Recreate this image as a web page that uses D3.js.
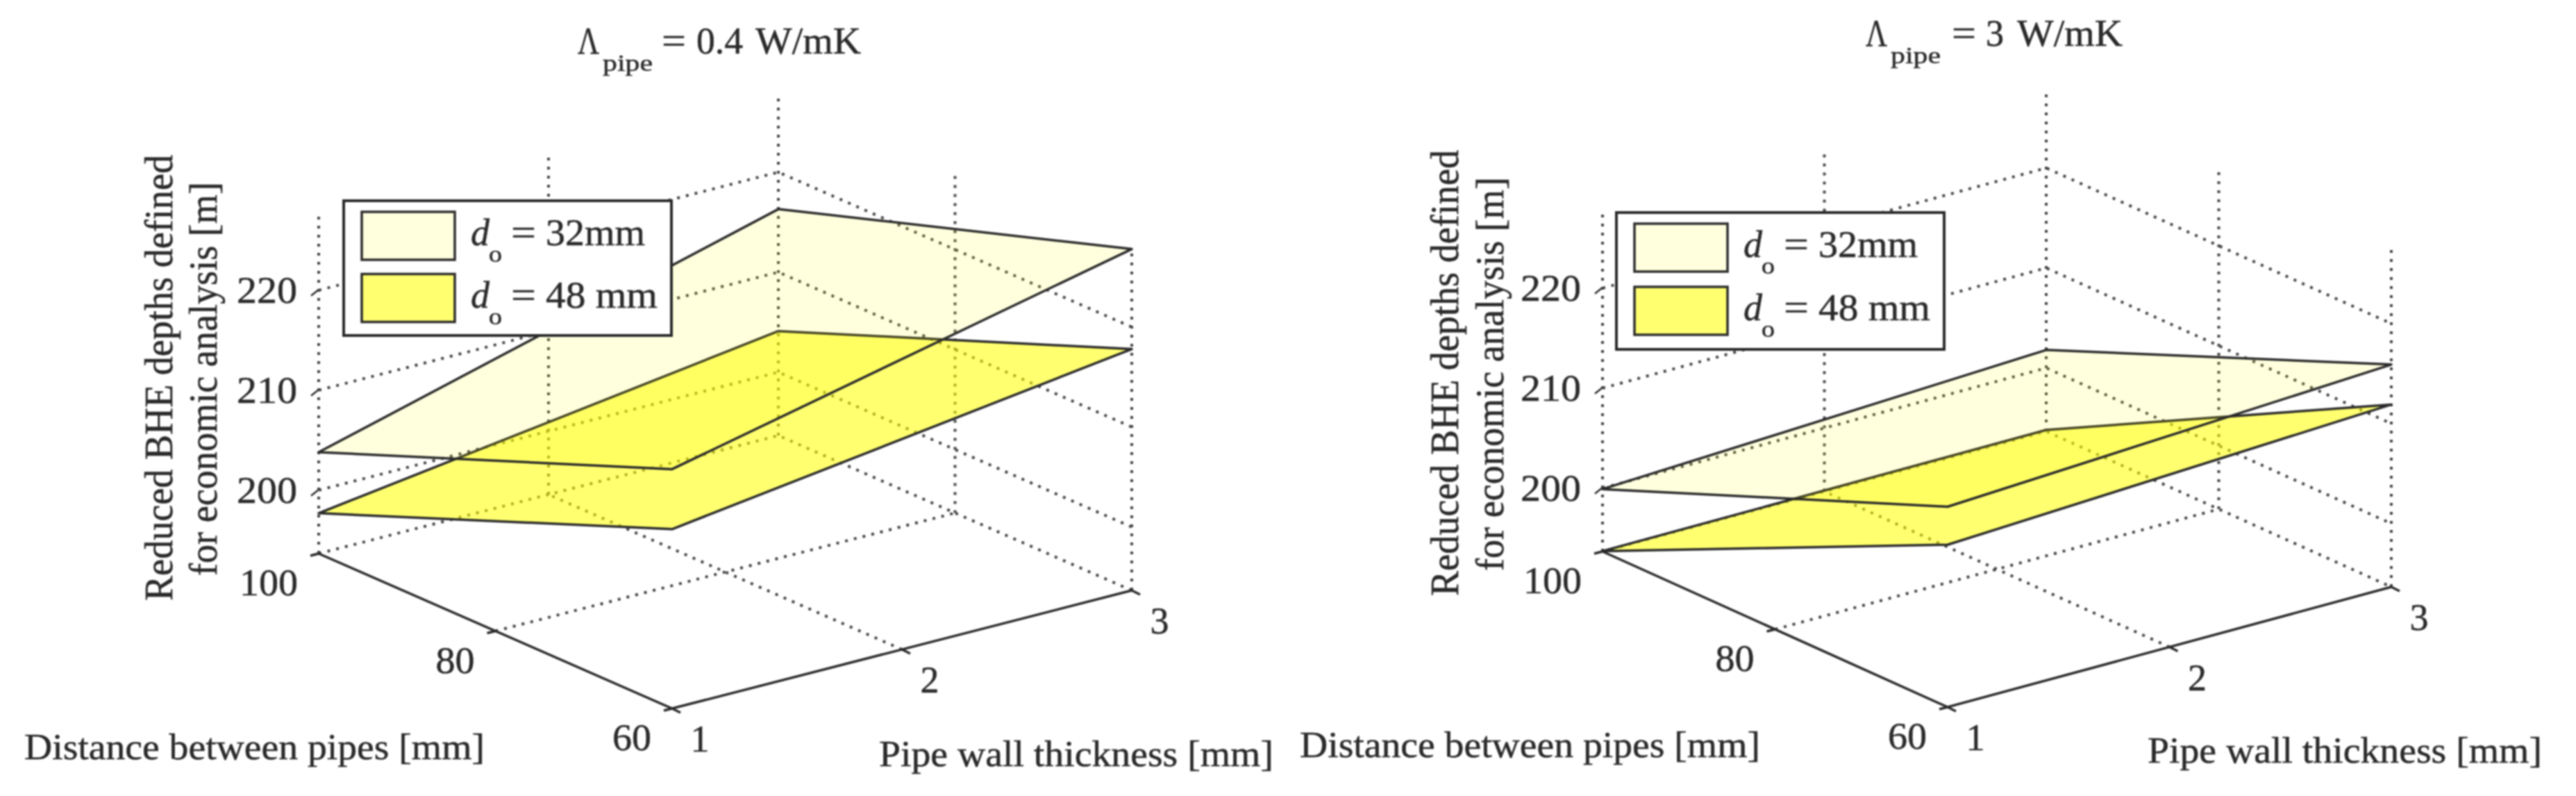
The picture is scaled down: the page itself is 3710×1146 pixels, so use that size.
<!DOCTYPE html>
<html><head><meta charset="utf-8">
<script src="https://d3js.org/d3.v7.min.js"></script>
<style>
html,body{margin:0;padding:0;background:#fff;overflow:hidden}
svg{display:block;filter:blur(.8px)}
text{font-family:"Liberation Serif",serif;fill:#2a2a2a;stroke:#2a2a2a;stroke-width:.5px}
</style></head><body>
<svg id="c" width="3710" height="1146"></svg>
<script>
// ---- data ----
const thicknessTicks = [1, 2, 3];
const distanceTicks = [60, 80, 100];
const depthTicks = [200, 210, 220];
const depthRange = [193.66, 227.7];
// corners ordered (t=1,d=100), (t=1,d=60), (t=3,d=60), (t=3,d=100)
const cornerThickness = [1, 1, 3, 3];
const cornerDistance = [100, 60, 60, 100];
const d32Left = [203.8, 217.6, 227.8, 216.3];
const d48Left = [197.7, 211.6, 217.8, 204.1];
const d32Right = [199.9, 213.7, 215.9, 201.8];
const d48Right = [193.7, 209.9, 211.9, 193.8];
const legendLabels = ["32mm", "48 mm"];
const titleLeft = ["0.4", "W/mK"];
const titleRight = ["3", "W/mK"];
const xLabel = "Pipe wall thickness [mm]";
const yLabel = "Distance between pipes [mm]";
const zLabel = ["Reduced BHE depths defined", "for economic analysis [m]"];

// ---- layout ----
const svg = d3.select("#c");
const DARK = "#2a2a2a", DOT = "#444";
const EDGE = 3.5;

function txt(g, s, x, y, size, len, opts = {}) {
  const t = g.append("text").attr("x", x).attr("y", y).attr("font-size", size).text(s);
  if (len) t.attr("textLength", len).attr("lengthAdjust", "spacingAndGlyphs");
  if (opts.anchor) t.attr("text-anchor", opts.anchor);
  if (opts.italic) t.attr("font-style", "italic");
  if (opts.transform) t.attr("transform", opts.transform);
  return t;
}

function panel(cfg) {
  const g = svg.append("g");
  const { F, L, R } = cfg;
  const tx = d3.scaleLinear().domain([1, 3]).range([0, R[0] - F[0]]);
  const ty = d3.scaleLinear().domain([1, 3]).range([0, R[1] - F[1]]);
  const dx = d3.scaleLinear().domain([60, 100]).range([0, L[0] - F[0]]);
  const dy = d3.scaleLinear().domain([60, 100]).range([0, L[1] - F[1]]);
  const zy = d3.scaleLinear().domain(depthRange).range([0, -490]);
  const P = (t, d, z) => [F[0] + tx(t) + dx(d), F[1] + ty(t) + dy(d) + zy(z)];
  const line = d3.line();
  const z0 = depthRange[0], z1 = depthRange[1];

  // dotted grid
  const grid = [];
  [[1, 100], [2, 100], [3, 100], [3, 80], [3, 60]].forEach(([t, d]) => grid.push([P(t, d, z0), P(t, d, z1)]));
  [z0, ...depthTicks].forEach(z => grid.push([P(1, 100, z), P(3, 100, z), P(3, 60, z)]));
  grid.push([P(2, 60, z0), P(2, 100, z0)]);
  grid.push([P(1, 80, z0), P(3, 80, z0)]);
  g.selectAll(null).data(grid).join("path").attr("d", line).attr("fill", "none")
    .attr("stroke", DOT).attr("stroke-width", 4).attr("stroke-dasharray", "4 9");

  // axes
  g.append("path").attr("d", line([P(1, 100, z0), P(1, 60, z0), P(3, 60, z0)]))
    .attr("fill", "none").attr("stroke", DARK).attr("stroke-width", EDGE);
  thicknessTicks.forEach(t => {
    const p = P(t, 60, z0);
    g.append("line").attr("x1", p[0]).attr("y1", p[1]).attr("x2", p[0] + 12).attr("y2", p[1] + 6)
      .attr("stroke", DARK).attr("stroke-width", EDGE);
    txt(g, t, p[0] + 40, p[1] + 62, 54, 27, { anchor: "middle" });
  });
  distanceTicks.forEach(d => {
    const p = P(1, d, z0);
    g.append("line").attr("x1", p[0]).attr("y1", p[1]).attr("x2", p[0] - 12).attr("y2", p[1] + 3)
      .attr("stroke", DARK).attr("stroke-width", EDGE);
    txt(g, d, p[0] - 30, p[1] + 60, 54, String(d).length * 28, { anchor: "end" });
  });
  depthTicks.forEach(z => {
    const p = P(1, 100, z);
    g.append("line").attr("x1", p[0] - 1).attr("y1", p[1]).attr("x2", p[0] - 11).attr("y2", p[1] + 8)
      .attr("stroke", DARK).attr("stroke-width", 2.5);
    txt(g, z, p[0] - 31, p[1] + 18, 54, 87, { anchor: "end" });
  });

  // surfaces
  [[cfg.d48, .56], [cfg.d32, .13]].forEach(([vals, a]) => {
    const pts = vals.map((z, i) => P(cornerThickness[i], cornerDistance[i], z));
    g.append("path").attr("d", line(pts) + "Z").attr("fill", "#ffff00").attr("fill-opacity", a)
      .attr("stroke", DARK).attr("stroke-width", EDGE).attr("stroke-linejoin", "round");
  });

  // legend
  const [lx, ly] = cfg.legend;
  const lh = cfg.legendH;
  g.append("rect").attr("x", lx).attr("y", ly).attr("width", 472).attr("height", lh)
    .attr("fill", "#fff").attr("stroke", DARK).attr("stroke-width", 4);
  legendLabels.forEach((s, i) => {
    const yo = ly + 16 + i * (lh - 15) / 2;
    g.append("rect").attr("x", lx + 26).attr("y", yo).attr("width", 134).attr("height", 69)
      .attr("fill", "#ffff00").attr("fill-opacity", i ? .56 : .13).attr("stroke", DARK).attr("stroke-width", 3.5);
    const b = yo + 48;
    txt(g, "d", lx + 183, b, 54, 27, { italic: true });
    txt(g, "o", lx + 209, b + 24, 34, 19);
    txt(g, "=", lx + 241, b, 54, 36);
    txt(g, s, lx + 291, b, 54, i ? 161 : 143);
  });

  // titles
  const [tix, tib] = cfg.title;
  txt(g, "\u039b", tix, tib, 54, 31);
  txt(g, "pipe", tix + 36, tib + 25, 34, 72);
  txt(g, "=", tix + cfg.eqX, tib, 54, 35);
  txt(g, cfg.titleText[0], tix + cfg.valX, tib, 54, cfg.valW);
  txt(g, cfg.titleText[1], tix + cfg.unitX, tib, 54, 152);

  // axis titles
  const [ax, ay] = cfg.yTitle;
  txt(g, yLabel, ax, ay, 52, 663);
  const [bx, by] = cfg.xTitle;
  txt(g, xLabel, bx, by, 52, 568);
  const [z1x, z1b, z1l] = cfg.zT1, [z2x, z2b, z2l] = cfg.zT2;
  txt(g, zLabel[0], 0, 0, 56, z1l, { transform: `translate(${z1x},${z1b}) rotate(-90)` });
  txt(g, zLabel[1], 0, 0, 56, z2l, { transform: `translate(${z2x},${z2b}) rotate(-90)` });
}

panel({
  F: [968, 1020], L: [459, 797], R: [1630, 850],
  d32: d32Left, d48: d48Left,
  legend: [495, 289], legendH: 194,
  title: [832, 77], titleText: titleLeft, eqX: 121, valX: 171, valW: 67, unitX: 256,
  yTitle: [35, 1093], xTitle: [1266, 1103],
  zT1: [248, 865, 642], zT2: [312, 829, 567]
});
panel({
  F: [2805, 1018], L: [2308, 794], R: [3444, 845],
  d32: d32Right, d48: d48Right,
  legend: [2328, 306], legendH: 197,
  title: [2687, 66], titleText: titleRight, eqX: 124, valX: 173, valW: 26, unitX: 218,
  yTitle: [1872, 1090], xTitle: [3093, 1098],
  zT1: [2100, 858, 642], zT2: [2165, 822, 567]
});
</script>
</body></html>
